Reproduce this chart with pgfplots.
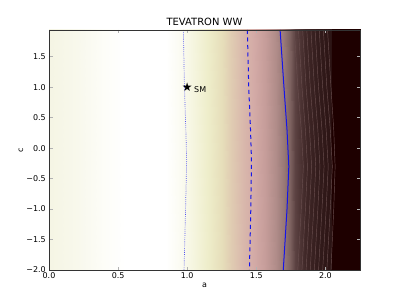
\documentclass[border=0pt]{standalone}
\usepackage{fontspec}
\setmainfont{DejaVu Sans}
\usepackage{pgfplots}
\pgfplotsset{compat=1.18}
\definecolor{cblue}{RGB}{20,20,235}
\definecolor{stripe}{RGB}{105,78,78}
\begin{document}
\begin{tikzpicture}
\useasboundingbox (0,0) rectangle (400bp,300bp);
\begin{axis}[
  at={(49bp,30bp)}, anchor=south west,
  scale only axis, width=311bp, height=240bp,
  xmin=0, xmax=2.25, ymin=-2, ymax=1.94,
  axis on top,
  xtick={0,0.5,1,1.5,2},
  xticklabels={0.0,0.5,1.0,1.5,2.0},
  ytick={-2,-1.5,-1,-0.5,0,0.5,1,1.5},
  yticklabels={−2.0,−1.5,−1.0,−0.5,0.0,0.5,1.0,1.5},
  tick align=inside,
  major tick length=3.5bp,
  tick style={gray!60, line width=0.7bp},
  axis line style={black!80, line width=0.8bp},
  ticklabel style={font=\fontsize{8}{9}\selectfont},
  xticklabel style={anchor=north, inner sep=0pt, yshift=-2.5bp},
  yticklabel style={anchor=east, inner sep=0pt, xshift=-3bp},
  title={TEVATRON WW},
  every axis title shift=0pt,
  title style={at={(0.5,1)}, anchor=base, inner sep=0pt, yshift=4.5bp, font=\fontsize{10}{11}\selectfont},
  xlabel={a},
  xlabel style={at={(axis description cs:0.5,0)}, anchor=base, inner sep=0pt, yshift=-17bp, font=\fontsize{8}{9}\selectfont},
  ylabel={c},
  ylabel style={at={(axis description cs:-0.09,0.5)}, anchor=center, inner sep=0pt, font=\fontsize{8}{9}\selectfont},
  colormap={pinkr}{[1pt]
    rgb255(0pt)=(245,245,228)
    rgb255(20pt)=(248,248,236)
    rgb255(40pt)=(253,253,248)
    rgb255(55pt)=(255,255,255)
    rgb255(85pt)=(255,255,255)
    rgb255(95pt)=(251,251,242)
    rgb255(105pt)=(245,245,222)
    rgb255(115pt)=(238,237,202)
    rgb255(125pt)=(230,222,186)
    rgb255(132pt)=(224,204,178)
    rgb255(140pt)=(217,184,172)
    rgb255(148pt)=(211,170,166)
    rgb255(156pt)=(198,157,154)
    rgb255(164pt)=(176,140,137)
    rgb255(170pt)=(152,120,118)
    rgb255(174pt)=(125,98,96)
    rgb255(178pt)=(92,66,66)
    rgb255(185pt)=(64,40,40)
    rgb255(195pt)=(50,27,27)
    rgb255(204pt)=(44,20,20)
    rgb255(205pt)=(30,0,0)
    rgb255(230pt)=(30,0,0)
  },
  point meta min=0, point meta max=230,
]
% background field (colour position = a*100)
\addplot[surf, shader=interp, mesh/rows=2, point meta=explicit] table[x=x, y=y, meta=m] {
x y m
0 -2.1 0
0.2 -2.1 20
0.4 -2.1 40
0.55 -2.1 55
0.85 -2.1 85
0.95 -2.1 95
1.05 -2.1 105
1.15 -2.1 115
1.25 -2.1 125
1.32 -2.1 132
1.40 -2.1 140
1.48 -2.1 148
1.56 -2.1 156
1.64 -2.1 164
1.70 -2.1 170
1.74 -2.1 174
1.78 -2.1 178
1.85 -2.1 185
1.95 -2.1 195
2.04 -2.1 204
2.05 -2.1 205
2.30 -2.1 230

0 2.0 0
0.2 2.0 20
0.4 2.0 40
0.55 2.0 55
0.85 2.0 85
0.95 2.0 95
1.05 2.0 105
1.15 2.0 115
1.25 2.0 125
1.32 2.0 132
1.40 2.0 140
1.48 2.0 148
1.56 2.0 156
1.64 2.0 164
1.70 2.0 170
1.74 2.0 174
1.78 2.0 178
1.85 2.0 185
1.95 2.0 195
2.04 2.0 204
2.05 2.0 205
2.30 2.0 230
};
% dense contour stripes
\addplot[stripe, line width=0.45bp] coordinates {(1.775,1.94) (1.80,1.0) (1.825,0.3) (1.84,-0.3) (1.825,-1.0) (1.80,-2)};
\addplot[stripe, line width=0.45bp] coordinates {(1.805,1.94) (1.83,1.0) (1.855,0.3) (1.87,-0.3) (1.855,-1.0) (1.83,-2)};
\addplot[stripe, line width=0.45bp] coordinates {(1.835,1.94) (1.86,1.0) (1.885,0.3) (1.90,-0.3) (1.885,-1.0) (1.86,-2)};
\addplot[stripe, line width=0.45bp] coordinates {(1.865,1.94) (1.89,1.0) (1.915,0.3) (1.93,-0.3) (1.915,-1.0) (1.89,-2)};
\addplot[stripe, line width=0.45bp] coordinates {(1.895,1.94) (1.92,1.0) (1.945,0.3) (1.96,-0.3) (1.945,-1.0) (1.92,-2)};
\addplot[stripe, line width=0.45bp] coordinates {(1.925,1.94) (1.95,1.0) (1.975,0.3) (1.99,-0.3) (1.975,-1.0) (1.95,-2)};
\addplot[stripe, line width=0.45bp] coordinates {(1.955,1.94) (1.98,1.0) (2.005,0.3) (2.02,-0.3) (2.005,-1.0) (1.98,-2)};
\addplot[stripe, line width=0.45bp] coordinates {(1.985,1.94) (2.01,1.0) (2.035,0.3) (2.05,-0.3) (2.035,-1.0) (2.01,-2)};
\addplot[stripe, line width=0.45bp] coordinates {(2.015,1.94) (2.04,1.0) (2.06,0.3) (2.07,-0.3) (2.06,-1.0) (2.04,-2)};
% contour lines
\addplot[cblue!75, line width=0.7bp, dash pattern=on 0.7bp off 1.2bp] coordinates {(0.972,1.94) (0.980,1.0) (0.990,0.3) (0.996,-0.2) (0.988,-1.0) (0.977,-2)};
\addplot[cblue, line width=1bp, dash pattern=on 4bp off 3.5bp] coordinates {(1.435,1.94) (1.445,1.0) (1.458,0.3) (1.465,-0.2) (1.460,-1.0) (1.450,-2)};
\addplot[cblue, line width=1bp] coordinates {(1.672,1.94) (1.700,1.0) (1.722,0.3) (1.735,-0.3) (1.722,-1.0) (1.695,-2)};
% SM point
\addplot[only marks, mark=text, text mark={\fontsize{12}{12}\selectfont ★}] coordinates {(1,1)};
\node[anchor=west, inner sep=0pt, font=\fontsize{8}{9}\selectfont] at (axis cs:1.049,0.955) {SM};
\end{axis}
\end{tikzpicture}
\end{document}
